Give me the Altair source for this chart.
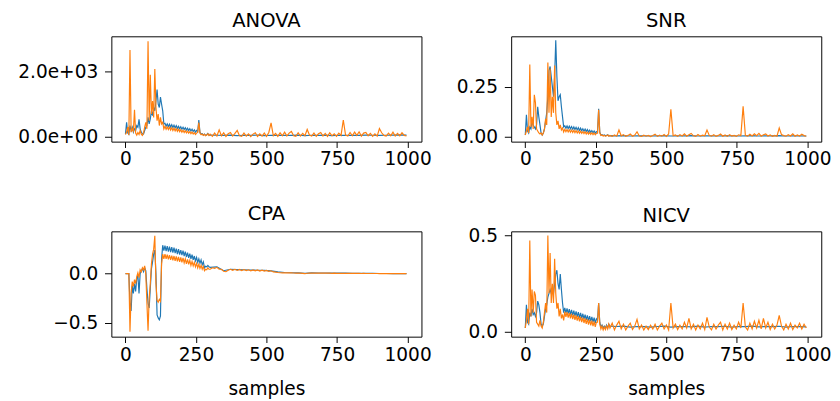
import altair as alt
import pandas as pd

# ---------------- data ----------------
X_EARLY = list(range(0, 300, 4))        # samples 0..296
X_LATE_O = list(range(300, 1000, 8))    # samples 300..996 (orange)
X_LATE_B = list(range(300, 1000, 24))   # samples 300..996 (blue)
X_TICKS = [0, 250, 500, 750, 1000]

anova_o_early = [80, 150, 300, 60, 2650, 150, 250, 180, 830, 120,
                 60, 140, 80, 200, 90, 50, 120, 300, 450, 250,
                 2920, 500, 1900, 700, 1100, 600, 2070, 900, 500, 700,
                 350, 600, 400, 450, 250, 330, 240, 310, 230, 300,
                 215, 285, 200, 270, 190, 255, 175, 240, 165, 225,
                 150, 210, 140, 195, 130, 180, 120, 165, 105, 150,
                 95, 135, 80, 120, 150, 440, 120, 70, 90, 50,
                 80, 40, 60, 100, 45]
anova_b_early = [90, 450, 120, 80, 350, 200, 300, 150, 250, 200,
                 350, 300, 540, 250, 150, 100, 90, 200, 300, 350,
                 600, 400, 550, 800, 650, 900, 800, 1100, 1450, 1000,
                 900, 1220, 1000, 800, 400, 420, 330, 400, 320, 390,
                 305, 375, 290, 360, 280, 345, 265, 330, 255, 315,
                 240, 300, 230, 285, 215, 270, 200, 255, 185, 240,
                 170, 220, 150, 200, 170, 515, 140, 90, 100, 60,
                 90, 50, 70, 110, 55]
anova_o_late = [90, 20, 120, 30, 220, 40, 130, 20, 100, 140,
                30, 110, 200, 40, 20, 120, 30, 100, 15, 90,
                130, 20, 100, 30, 120, 20, 140, 430, 40, 110,
                20, 130, 40, 150, 30, 120, 170, 40, 20, 130,
                30, 110, 40, 230, 60, 30, 120, 20, 100, 140,
                30, 110, 20, 130, 40, 100, 20, 120, 50, 520,
                60, 30, 140, 40, 150, 50, 160, 30, 120, 140,
                40, 110, 20, 100, 30, 260, 130, 50, 30, 120,
                40, 150, 30, 110, 40, 130, 50, 30]
anova_b_late = [60, 55, 50, 60, 45, 55, 50, 60, 45, 55,
                50, 55, 50, 60, 45, 55, 50, 60, 45, 55,
                50, 55, 50, 60, 55, 50, 55, 60, 65, 60]

snr_o_early = [0.01, 0.03, 0.05, 0.02, 0.36, 0.05, 0.10, 0.04, 0.21, 0.17,
               0.04, 0.03, 0.02, 0.015, 0.02, 0.01, 0.02, 0.04, 0.09, 0.06,
               0.37, 0.12, 0.34, 0.10, 0.20, 0.12, 0.355, 0.12, 0.06, 0.08,
               0.04, 0.06, 0.035, 0.045, 0.025, 0.038, 0.026, 0.037, 0.025, 0.036,
               0.024, 0.035, 0.023, 0.033, 0.021, 0.032, 0.02, 0.03, 0.019, 0.029,
               0.018, 0.027, 0.017, 0.026, 0.015, 0.024, 0.014, 0.023, 0.013, 0.021,
               0.012, 0.02, 0.011, 0.018, 0.02, 0.135, 0.02, 0.008, 0.01, 0.005,
               0.008, 0.004, 0.006, 0.01, 0.004]
snr_b_early = [0.01, 0.11, 0.03, 0.02, 0.05, 0.04, 0.08, 0.06, 0.05, 0.04,
               0.06, 0.15, 0.10, 0.06, 0.02, 0.01, 0.02, 0.04, 0.08, 0.12,
               0.20, 0.33, 0.35, 0.30, 0.25, 0.20, 0.30, 0.48, 0.30, 0.18,
               0.20, 0.21, 0.15, 0.10, 0.05, 0.056, 0.043, 0.055, 0.042, 0.054,
               0.041, 0.052, 0.039, 0.05, 0.037, 0.048, 0.035, 0.046, 0.033, 0.044,
               0.031, 0.041, 0.029, 0.039, 0.027, 0.037, 0.025, 0.034, 0.023, 0.032,
               0.021, 0.03, 0.019, 0.027, 0.022, 0.14, 0.024, 0.01, 0.012, 0.007,
               0.01, 0.006, 0.008, 0.011, 0.006]
snr_o_late = [0.008, 0.003, 0.01, 0.004, 0.035, 0.006, 0.012, 0.003, 0.008, 0.015,
              0.004, 0.01, 0.026, 0.005, 0.003, 0.009, 0.004, 0.008, 0.002, 0.007,
              0.014, 0.003, 0.009, 0.004, 0.012, 0.003, 0.015, 0.138, 0.006, 0.01,
              0.003, 0.012, 0.005, 0.016, 0.004, 0.011, 0.018, 0.006, 0.003, 0.012,
              0.004, 0.009, 0.006, 0.035, 0.008, 0.004, 0.011, 0.003, 0.008, 0.015,
              0.004, 0.01, 0.003, 0.012, 0.005, 0.008, 0.003, 0.011, 0.007, 0.152,
              0.008, 0.004, 0.014, 0.005, 0.016, 0.007, 0.018, 0.004, 0.011, 0.015,
              0.005, 0.01, 0.003, 0.008, 0.004, 0.045, 0.012, 0.007, 0.004, 0.011,
              0.005, 0.016, 0.004, 0.01, 0.005, 0.014, 0.007, 0.004]
snr_b_late = [0.007, 0.006, 0.007, 0.005, 0.006, 0.006, 0.005, 0.006, 0.007, 0.005,
              0.006, 0.006, 0.007, 0.005, 0.006, 0.006, 0.005, 0.007, 0.006, 0.005,
              0.006, 0.007, 0.005, 0.006, 0.006, 0.007, 0.005, 0.006, 0.006, 0.005]

cpa_o_early = [0.0, 0.0, 0.0, 0.0, -0.59, -0.2, -0.08, -0.13, -0.06, -0.1,
               -0.03, 0.01, -0.04, 0.04, 0.02, 0.06, 0.04, 0.08, 0.0, -0.3,
               -0.58, -0.25, -0.1, 0.1, 0.2, 0.25, 0.385, -0.1, -0.27, -0.29,
               -0.26, -0.28, 0.1, 0.2, 0.15, 0.2, 0.15, 0.195, 0.145, 0.19,
               0.14, 0.185, 0.135, 0.18, 0.13, 0.175, 0.125, 0.17, 0.12, 0.165,
               0.115, 0.16, 0.11, 0.15, 0.1, 0.145, 0.095, 0.135, 0.085, 0.125,
               0.08, 0.115, 0.07, 0.105, 0.06, 0.095, 0.055, 0.085, 0.045, 0.075,
               0.03, 0.045, 0.04, 0.06, 0.045]
cpa_b_early = [0.0, 0.0, 0.0, 0.0, -0.3, -0.38, -0.12, -0.2, -0.1, -0.18,
               -0.05, -0.02, -0.2, 0.0, 0.03, 0.05, 0.02, 0.06, 0.03, -0.15,
               -0.3, -0.35, -0.15, 0.05, 0.12, 0.2, 0.24, 0.0, -0.42, -0.45,
               -0.47, -0.43, 0.15, 0.29, 0.235, 0.285, 0.23, 0.28, 0.225, 0.275,
               0.22, 0.27, 0.215, 0.265, 0.21, 0.255, 0.2, 0.25, 0.195, 0.24,
               0.19, 0.235, 0.18, 0.225, 0.17, 0.215, 0.16, 0.205, 0.15, 0.195,
               0.14, 0.18, 0.13, 0.165, 0.115, 0.15, 0.105, 0.14, 0.09, 0.12,
               0.06, 0.075, 0.07, 0.085, 0.07]
cpa_o_late = [0.045, 0.06, 0.055, 0.065, 0.045, 0.045, 0.025, 0.02, 0.035, 0.045,
              0.035, 0.045, 0.033, 0.043, 0.032, 0.042, 0.031, 0.04, 0.03, 0.039,
              0.029, 0.038, 0.027, 0.036, 0.026, 0.034, 0.024, 0.03, 0.018, 0.016,
              0.012, 0.01, 0.009, 0.01, 0.008, 0.009, 0.008, 0.007, 0.006, 0.005,
              0.005, 0.003, 0.0, 0.005, 0.007, 0.006, 0.007, 0.006, 0.006, 0.006,
              0.005, 0.006, 0.005, 0.005, 0.004, 0.005, 0.004, 0.004, 0.004, 0.003,
              0.004, 0.003, 0.004, 0.003, 0.003, 0.003, 0.003, 0.002, 0.003, 0.002,
              0.002, 0.002, 0.002, 0.002, 0.002, 0.001, 0.002, 0.001, 0.001, 0.001,
              0.001, 0.001, 0.001, 0.001, 0.001, 0.001, 0.0, 0.0]
cpa_b_late = [0.065, 0.07, 0.03, 0.045, 0.042, 0.04, 0.038, 0.035, 0.033, 0.028,
              0.018, 0.012, 0.01, 0.008, 0.003, 0.008, 0.007, 0.007, 0.006, 0.005,
              0.005, 0.004, 0.004, 0.003, 0.003, 0.002, 0.002, 0.001, 0.001, 0.0]

nicv_o_early = [0.02, 0.06, 0.12, 0.04, 0.475, 0.08, 0.22, 0.1, 0.21, 0.19,
                0.05, 0.04, 0.03, 0.06, 0.03, 0.02, 0.05, 0.1, 0.15, 0.1,
                0.5, 0.2, 0.41, 0.15, 0.25, 0.15, 0.38, 0.2, 0.12, 0.15,
                0.08, 0.12, 0.07, 0.09, 0.06, 0.105, 0.078, 0.102, 0.074, 0.098,
                0.07, 0.094, 0.066, 0.09, 0.062, 0.086, 0.058, 0.082, 0.054, 0.078,
                0.05, 0.074, 0.046, 0.07, 0.042, 0.066, 0.038, 0.062, 0.034, 0.058,
                0.03, 0.054, 0.026, 0.05, 0.05, 0.15, 0.04, 0.015, 0.03, 0.01,
                0.025, 0.012, 0.03, 0.015, 0.04]
nicv_b_early = [0.02, 0.14, 0.05, 0.04, 0.1, 0.08, 0.12, 0.09, 0.1, 0.08,
                0.1, 0.16, 0.14, 0.1, 0.04, 0.03, 0.04, 0.08, 0.12, 0.14,
                0.18, 0.2, 0.22, 0.2, 0.22, 0.2, 0.25, 0.3, 0.32, 0.25,
                0.22, 0.3, 0.22, 0.15, 0.1, 0.125, 0.098, 0.122, 0.095, 0.118,
                0.09, 0.114, 0.086, 0.11, 0.082, 0.106, 0.078, 0.102, 0.074, 0.098,
                0.07, 0.094, 0.066, 0.09, 0.062, 0.086, 0.058, 0.082, 0.054, 0.078,
                0.05, 0.074, 0.045, 0.068, 0.06, 0.15, 0.05, 0.025, 0.035, 0.02,
                0.03, 0.02, 0.035, 0.02, 0.04]
nicv_o_late = [0.02, 0.045, 0.01, 0.035, 0.055, 0.015, 0.04, 0.01, 0.03, 0.045,
               0.012, 0.03, 0.065, 0.015, 0.035, 0.01, 0.03, 0.012, 0.035, 0.015,
               0.04, 0.01, 0.03, 0.045, 0.015, 0.035, 0.01, 0.15, 0.02, 0.04,
               0.012, 0.035, 0.015, 0.05, 0.02, 0.07, 0.015, 0.04, 0.01, 0.035,
               0.015, 0.045, 0.012, 0.075, 0.025, 0.01, 0.04, 0.015, 0.035, 0.05,
               0.01, 0.04, 0.015, 0.045, 0.012, 0.035, 0.015, 0.05, 0.02, 0.15,
               0.025, 0.01, 0.045, 0.015, 0.055, 0.02, 0.06, 0.015, 0.07, 0.02,
               0.05, 0.012, 0.04, 0.015, 0.035, 0.085, 0.03, 0.01, 0.04, 0.015,
               0.045, 0.012, 0.035, 0.02, 0.045, 0.015, 0.04, 0.02]
nicv_b_late = [0.03, 0.028, 0.03, 0.025, 0.028, 0.027, 0.025, 0.028, 0.03, 0.025,
               0.027, 0.028, 0.026, 0.03, 0.025, 0.028, 0.027, 0.029, 0.025, 0.028,
               0.027, 0.03, 0.026, 0.028, 0.027, 0.029, 0.025, 0.028, 0.027, 0.026]

BLUE = "#1f77b4"
ORANGE = "#ff7f0e"
FONT = "DejaVu Sans"

PANELS = {
    "ANOVA": dict(o=(anova_o_early, anova_o_late), b=(anova_b_early, anova_b_late),
                  dom=[-140, 3070], ticks=[0, 2000], labels=["0.0e+00", "2.0e+03"]),
    "SNR": dict(o=(snr_o_early, snr_o_late), b=(snr_b_early, snr_b_late),
                dom=[-0.023, 0.5], ticks=[0, 0.25], labels=["0.00", "0.25"]),
    "CPA": dict(o=(cpa_o_early, cpa_o_late), b=(cpa_b_early, cpa_b_late),
                dom=[-0.641, 0.431], ticks=[-0.5, 0.0], labels=["\u22120.5", "0.0"]),
    "NICV": dict(o=(nicv_o_early, nicv_o_late), b=(nicv_b_early, nicv_b_late),
                 dom=[-0.025, 0.522], ticks=[0.0, 0.5], labels=["0.0", "0.5"]),
}


def label_expr(ticks, labels):
    expr = "'" + labels[-1] + "'"
    for v, l in reversed(list(zip(ticks[:-1], labels[:-1]))):
        expr = "abs(datum.value - (%s)) < 1e-9 ? '%s' : %s" % (v, l, expr)
    return expr


def panel(name, yext, bottom, toff):
    p = PANELS[name]
    ob = pd.DataFrame({"sample": X_EARLY + X_LATE_O, "value": p["o"][0] + p["o"][1]})
    bb = pd.DataFrame({"sample": X_EARLY + X_LATE_B, "value": p["b"][0] + p["b"][1]})
    xaxis = dict(values=X_TICKS, format="d", tickSize=6,
                 labelPadding=3 if bottom else 2,
                 minExtent=30, maxExtent=30)
    if bottom:
        xaxis.update(title="samples", titleFontSize=19, titleFont=FONT,
                     titleFontWeight="normal", titlePadding=14, titleColor="black")
    else:
        xaxis.update(title=None)
    x = alt.X("sample:Q", scale=alt.Scale(domain=[-50, 1049], nice=False, zero=False),
              axis=alt.Axis(**xaxis))
    y = alt.Y("value:Q", scale=alt.Scale(domain=p["dom"], nice=False, zero=False),
              axis=alt.Axis(values=p["ticks"], labelExpr=label_expr(p["ticks"], p["labels"]),
                            title=None, tickSize=7, labelPadding=7,
                            minExtent=yext, maxExtent=yext))
    lb = alt.Chart(bb).mark_line(color=BLUE, strokeWidth=1.2, clip=True).encode(x=x, y=y)
    lo = alt.Chart(ob).mark_line(color=ORANGE, strokeWidth=1.2, clip=True).encode(x=x, y=y)
    return alt.layer(lb, lo).properties(
        width=318, height=108,
        title=alt.TitleParams(name, fontSize=20, font=FONT, fontWeight="normal",
                              color="black", offset=toff, frame="group"),
    )


row1 = alt.hconcat(panel("ANOVA", 105, False, 6), panel("SNR", 60, False, 6), spacing=20)
row2 = alt.hconcat(panel("CPA", 105, True, 8), panel("NICV", 60, True, 1), spacing=20)

chart = (
    alt.vconcat(row1, row2, spacing=32)
    .properties(padding={"top": -3, "left": 0, "right": 0, "bottom": 0})
    .configure_view(stroke="black", strokeWidth=1)
    .configure_axis(domain=False, grid=False, tickColor="black", tickWidth=1,
                    labelFont=FONT, labelFontSize=19, labelColor="black")
)

chart.save("out.html", embed_options={"renderer": "svg", "actions": False})
